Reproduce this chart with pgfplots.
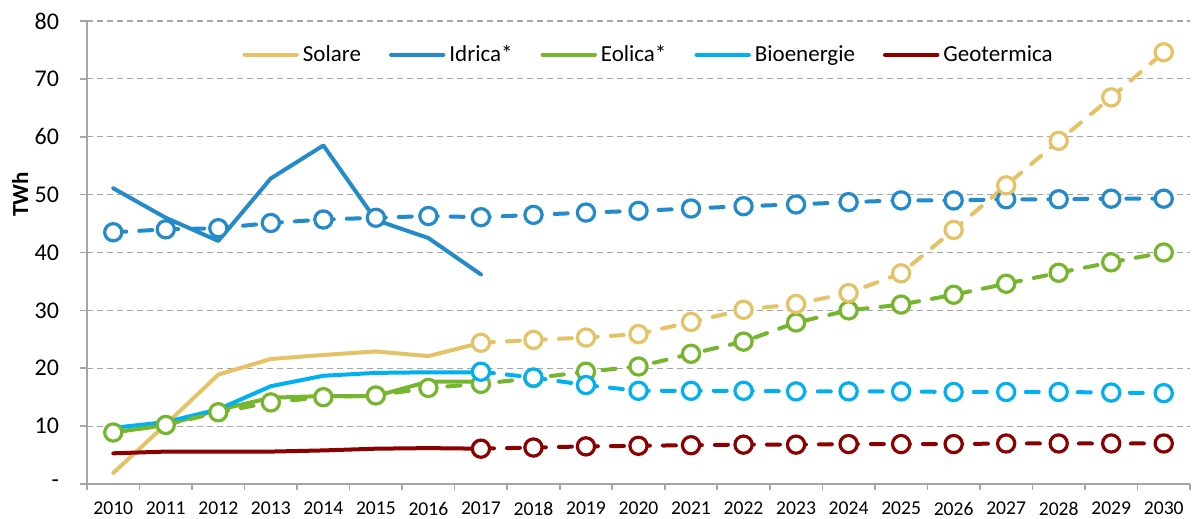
\documentclass[border=0pt]{standalone}
\usepackage{fontspec}
\setmainfont{Carlito}
\usepackage{pgfplots}
\pgfplotsset{compat=1.18}

\definecolor{solare}{HTML}{E6C266}
\definecolor{idrica}{HTML}{248BCB}
\definecolor{eolica}{HTML}{76B52E}
\definecolor{bioen}{HTML}{00B0F0}
\definecolor{geoterm}{HTML}{8B0000}
\definecolor{axgray}{HTML}{A6A6A6}

\pgfplotsset{
  hist/.style={line width=2pt, line cap=round, line join=round, mark=none},
  proj/.style={line width=2pt, line cap=round, dash pattern=on 6.5pt off 6.5pt,
    mark=*, mark size=4.3pt, mark options={solid, fill=white, line width=1.6pt}},
}

\begin{document}
\begin{tikzpicture}
\begin{axis}[
    scale only axis,
    width=551.5pt, height=231.5pt,
    xmin=-0.5, xmax=20.5,
    ymin=0, ymax=80,
    axis lines=left,
    axis line style={-, axgray, line width=0.8pt},
    xtick={0,...,20},
    xticklabels={2010,2011,2012,2013,2014,2015,2016,2017,2018,2019,2020,2021,2022,2023,2024,2025,2026,2027,2028,2029,2030},
    major x tick style={draw=none},
    minor xtick={-0.5,0.5,...,20.5},
    minor x tick style={axgray, line width=0.8pt},
    minor tick length=3pt,
    ytick={0,10,...,80},
    yticklabels={-\hspace{5pt},10,20,30,40,50,60,70,80},
    y tick style={axgray, line width=0.8pt},
    major tick length=3.5pt,
    tick align=outside,
    tick pos=left,
    ymajorgrids,
    major grid style={axgray, line width=0.6pt, dash pattern=on 3pt off 2pt},
    /pgf/number format/assume math mode=true,
    xticklabel style={font=\fontsize{9.8}{11}\selectfont, yshift=-2pt},
    yticklabel style={font=\fontsize{12}{14}\selectfont, xshift=-7pt},
    ylabel={TWh},
    ylabel style={at={(axis description cs:0,0.625)}, anchor=center, yshift=33.5pt, font=\bfseries\fontsize{11.5}{13}\selectfont},
    legend columns=-1,
    legend style={draw=none, fill=none, at={(rel axis cs:0.51,0.927)}, anchor=center,
      font=\fontsize{11.5}{13}\selectfont,
      /tikz/every even column/.append style={column sep=12pt}},
    legend image code/.code={\draw[#1, line width=2.2pt, line cap=round] (0pt,0pt) -- (26pt,0pt);},
]
% historical series
\addplot[hist, solare] coordinates {
  (0,1.9) (1,10.3) (2,18.9) (3,21.6) (4,22.3) (5,22.9) (6,22.1) (7,24.4)
};
\addlegendentry{Solare}
\addplot[hist, idrica] coordinates {
  (0,51.1) (1,46.0) (2,42.0) (3,52.8) (4,58.5) (5,45.6) (6,42.5) (7,36.2)
};
\addlegendentry{Idrica*}
\addplot[hist, eolica] coordinates {
  (0,8.9) (1,10.2) (2,12.8) (3,14.9) (4,15.2) (5,15.2) (6,17.7) (7,17.7)
};
\addlegendentry{Eolica*}
\addplot[hist, bioen] coordinates {
  (0,9.7) (1,10.7) (2,12.9) (3,16.9) (4,18.7) (5,19.2) (6,19.3) (7,19.3)
};
\addlegendentry{Bioenergie}
\addplot[hist, geoterm] coordinates {
  (0,5.3) (1,5.6) (2,5.6) (3,5.6) (4,5.8) (5,6.1) (6,6.2) (7,6.1)
};
\addlegendentry{Geotermica}

% projections
\addplot[proj, idrica, forget plot] coordinates {
  (0,43.5) (1,44.0) (2,44.2) (3,45.1) (4,45.7) (5,46.0) (6,46.3) (7,46.1)
  (8,46.5) (9,46.9) (10,47.2) (11,47.6) (12,48.0) (13,48.3) (14,48.7)
  (15,49.0) (16,49.0) (17,49.2) (18,49.2) (19,49.3) (20,49.3)
};
\addplot[proj, eolica, forget plot] coordinates {
  (0,8.9) (1,10.2) (2,12.4) (3,14.1) (4,15.0) (5,15.3) (6,16.6) (7,17.3)
  (8,18.3) (9,19.4) (10,20.3) (11,22.5) (12,24.6) (13,27.9) (14,30.0)
  (15,31.0) (16,32.7) (17,34.6) (18,36.5) (19,38.3) (20,40.0)
};
\addplot[proj, bioen, forget plot] coordinates {
  (7,19.4) (8,18.4) (9,17.1) (10,16.1) (11,16.1) (12,16.1) (13,16.0)
  (14,16.0) (15,16.0) (16,15.9) (17,15.9) (18,15.9) (19,15.8) (20,15.7)
};
\addplot[proj, geoterm, forget plot] coordinates {
  (7,6.1) (8,6.3) (9,6.5) (10,6.6) (11,6.7) (12,6.8) (13,6.8)
  (14,6.9) (15,6.9) (16,6.9) (17,7.0) (18,7.0) (19,7.0) (20,7.0)
};
\addplot[proj, solare, forget plot] coordinates {
  (7,24.4) (8,24.9) (9,25.3) (10,25.9) (11,28.0) (12,30.1) (13,31.1)
  (14,33.0) (15,36.4) (16,43.9) (17,51.6) (18,59.3) (19,66.8) (20,74.6)
};
\end{axis}
\pgfresetboundingbox
\path (-43.5pt,-17.5pt) rectangle (554pt,242pt);
\end{tikzpicture}
\end{document}
